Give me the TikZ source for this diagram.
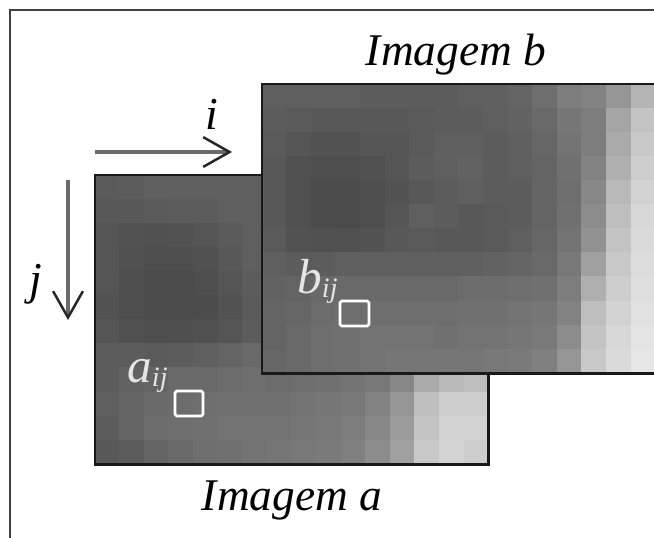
\documentclass[tikz,border=0pt]{standalone}
\usepackage{fontspec}
\setmainfont{Liberation Serif}
\usepackage{tikz}
\usetikzlibrary{arrows.meta}
\newcommand{\pixsub}[1]{\raisebox{-0.2ex}{\fontsize{16}{17}\selectfont #1}}

\begin{document}
\begin{tikzpicture}[
  x=0.02cm, y=-0.02cm,
  border/.style={draw=black!75, line width=1.1pt},
  imgframe/.style={draw=black!90, line width=1.5pt},
  pixbox/.style={draw=white, line width=1.6pt, rounded corners=1pt},
  caption/.style={font=\fontsize{25.8}{30}\selectfont\itshape, inner sep=0pt, anchor=base},
  pixlabel/.style={text=white!90!black, font=\fontsize{28}{32}\selectfont\itshape, inner sep=0pt, anchor=base west},
  axislabel/.style={font=\fontsize{26}{30}\selectfont\itshape, inner sep=0pt},
  arrow/.style={draw=black!58, line width=2pt, -{Straight Barb[length=15pt, width=17pt, line width=1.4pt, color=black!85]}}
]
  \useasboundingbox (0,0) rectangle (654,538);
  \fill[white] (0,0) rectangle (654,538);
  \def\cw{24.6}
  \def\ch{24.1}

  % Frame
  \draw[border] (654,10) -- (10,10) -- (10,538);

  % Image a
  \foreach \row [count=\r from 0] in {%
    {90,92,95,95,95,95,95,100,100,100,100,100,100,100,100,100},%
    {88,88,90,92,92,95,95,100,100,100,100,100,100,100,100,100},%
    {85,82,80,82,85,90,95,100,100,100,100,100,100,100,100,100},%
    {85,80,78,78,80,88,95,100,100,100,100,100,100,100,100,100},%
    {85,78,75,75,78,85,92,100,100,100,100,100,100,100,100,100},%
    {82,78,75,75,76,82,90,100,100,100,100,100,100,100,100,100},%
    {85,80,78,78,80,85,92,100,100,100,100,100,100,100,100,100},%
    {92,92,90,92,95,100,105,105,108,110,112,118,130,165,180,185},%
    {92,98,100,105,105,108,110,108,110,112,115,120,135,170,185,190},%
    {95,100,105,108,110,112,112,112,115,118,120,130,150,190,205,205},%
    {92,100,108,110,112,115,115,115,118,120,125,135,155,195,210,210},%
    {88,92,100,105,110,112,115,118,120,122,128,140,160,200,212,205}%
  }{
    \foreach \g [count=\c from 0] in \row {
      \definecolor{pix}{RGB}{\g,\g,\g}
      \filldraw[pix, line width=0.4pt] (95+\c*\cw, 175+\r*\ch) rectangle ++(\cw,\ch);
    }
  }
  \draw[imgframe] (95,175) rectangle ++(16*\cw, 12*\ch);
  \draw[pixbox] (175,391) rectangle (203,416);
  \node[pixlabel] (alab) at (127,382) {a\pixsub{ij}};

  % Image b
  \foreach \row [count=\r from 0] in {%
    {95,95,95,95,92,92,92,92,95,95,100,110,125,130,150,180},%
    {92,90,88,88,88,88,90,92,92,95,98,105,118,125,165,195},%
    {90,85,82,82,85,85,90,95,95,92,95,102,115,125,170,200},%
    {88,80,78,78,80,85,92,95,98,92,95,100,112,130,175,205},%
    {88,80,76,76,78,82,88,92,95,92,92,100,110,135,185,210},%
    {88,80,76,75,78,85,95,92,88,90,92,100,112,140,190,215},%
    {90,82,80,80,82,88,90,88,88,90,95,102,115,145,195,218},%
    {95,92,92,95,95,95,95,95,95,98,100,105,120,160,200,220},%
    {98,100,105,105,105,105,105,105,108,108,110,112,125,175,205,222},%
    {100,102,108,110,110,110,110,110,112,112,115,118,130,190,210,225},%
    {100,105,110,112,115,115,115,112,115,115,118,122,140,195,215,228},%
    {102,105,110,112,115,118,118,118,118,120,122,128,150,200,218,230}%
  }{
    \foreach \g [count=\c from 0] in \row {
      \definecolor{pix}{RGB}{\g,\g,\g}
      \filldraw[pix, line width=0.4pt] (262+\c*\cw, 84+\r*\ch) rectangle ++(\cw,\ch);
    }
  }
  \draw[imgframe] (262,84) rectangle ++(16*\cw, 12*\ch);
  \draw[pixbox] (340,301) rectangle (369,326);
  \node[pixlabel] (blab) at (297,293) {b\pixsub{ij}};

  % Captions
  \node[caption] (capb) at (456,65) {Imagem b};
  \node[caption] (capa) at (292,510) {Imagem a};

  % Axes
  \coordinate (istart) at (95,152);
  \coordinate (iend) at (232,152);
  \coordinate (jstart) at (68,180);
  \coordinate (jend) at (68,320);
  \draw[arrow] (istart) -- (iend);
  \draw[arrow] (jstart) -- (jend);
  \node[axislabel] (ilab) at (212,114) {i};
  \node[axislabel] (jlab) at (36,284) {j};
\end{tikzpicture}
\end{document}
